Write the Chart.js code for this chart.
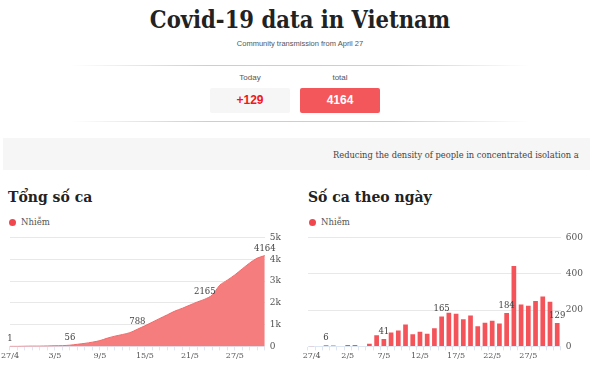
<!DOCTYPE html>
<html>
<head>
<meta charset="utf-8">
<script src="https://cdn.jsdelivr.net/npm/chart.js@4.4.0/dist/chart.umd.min.js"></script>
<style>
  body { margin: 0; width: 600px; height: 366px; background: #fff; position: relative; overflow: hidden; font-family: "Liberation Sans", Arial, sans-serif; }
  .abs { position: absolute; }
  .title { left: 0; width: 600px; top: 6px; text-align: center; font-family: "DejaVu Serif Condensed", "DejaVu Serif", serif; font-stretch: condensed; font-weight: bold; font-size: 23.5px; color: #222; }
  .sub { left: 0; width: 600px; top: 39px; text-align: center; font-size: 7.5px; color: #555; }
  .line { left: 70px; width: 460px; height: 1px; background: linear-gradient(to right, rgba(230,190,200,0), #e6c2cb 30%, #e6c2cb 70%, rgba(230,190,200,0)); }
  .lbl { font-size: 8px; color: #555; text-align: center; width: 80px; }
  .box { height: 25px; width: 80px; border-radius: 2px; text-align: center; line-height: 25px; font-weight: bold; font-size: 12px; }
  .band { left: 3px; top: 138px; width: 587px; height: 32px; background: #f6f6f6; }
  .band div { position: absolute; left: 330px; top: 12px; width: 246px; overflow: hidden; white-space: nowrap; font-family: "DejaVu Serif", serif; font-size: 8.3px; color: #444; }
  .sec { font-family: "DejaVu Serif", serif; font-weight: bold; font-size: 14px; color: #222; }
  .leg { font-family: "DejaVu Serif", serif; font-size: 8.5px; color: #555; }
  .leg i { display: inline-block; width: 7px; height: 7px; border-radius: 50%; background: #f0474f; margin-right: 5px; vertical-align: -1px; }
</style>
</head>
<body>
<div class="abs title">Covid-19 data in Vietnam</div>
<div class="abs sub">Community transmission from April 27</div>
<div class="abs line" style="top:65px"></div>
<div class="abs lbl" style="left:210px;top:73px">Today</div>
<div class="abs lbl" style="left:300px;top:73px">total</div>
<div class="abs box" style="left:210px;top:88px;background:#f6f6f6;color:#f01818">+129</div>
<div class="abs box" style="left:300px;top:88px;background:#f3575c;color:#fff">4164</div>
<div class="abs line" style="top:121px"></div>
<div class="abs band"><div>Reducing the density of people in concentrated isolation areas</div></div>

<div class="abs sec" style="left:8px;top:189px">Tổng số ca</div>
<div class="abs leg" style="left:9px;top:217px"><i></i>Nhiễm</div>
<div class="abs sec" style="left:308px;top:189px">Số ca theo ngày</div>
<div class="abs leg" style="left:309px;top:217px"><i></i>Nhiễm</div>

<div class="abs" style="left:0;top:227px;width:300px;height:135px"><canvas id="tongSoCa"></canvas></div>
<div class="abs" style="left:300px;top:227px;width:300px;height:135px"><canvas id="theoNgay"></canvas></div>

<script>
const ngay = ['27/4','28/4','29/4','30/4','1/5','2/5','3/5','4/5','5/5','6/5','7/5','8/5','9/5','10/5','11/5','12/5','13/5','14/5','15/5','16/5','17/5','18/5','19/5','20/5','21/5','22/5','23/5','24/5','25/5','26/5','27/5','28/5','29/5','30/5','31/5'];
const tongSoCa = [1,1,7,12,12,20,28,35,56,97,140,195,265,380,470,545,630,788,945,1115,1285,1450,1620,1750,1895,2040,2165,2360,2810,3040,3280,3560,3830,4050,4164];
const soCaNgay = [1,0,6,5,0,8,8,0,15,61,41,76,87,120,67,80,70,100,165,185,180,150,170,111,130,141,126,184,443,231,224,250,274,246,129];
const nhanTong = [0,8,17,26,34];
const nhanNgay = [2,10,18,27,34];
const tickTong = [0,1000,2000,3000,4000,5000];
const tickNgay = [0,200,400,600];

const serif = '"DejaVu Serif", serif';

// ghi so lieu tren mot vai diem
const nhanPlugin = {
  id: 'nhan',
  afterDatasetsDraw(chart, args, opts) {
    const ctx = chart.ctx;
    const meta = chart.getDatasetMeta(0);
    const data = chart.data.datasets[0].data;
    ctx.save();
    ctx.font = '8.5px ' + serif;
    ctx.fillStyle = '#444';
    ctx.textAlign = 'center';
    ctx.textBaseline = 'bottom';
    opts.idx.forEach(i => {
      const el = meta.data[i];
      ctx.fillText(data[i], el.x, el.y - 3);
    });
    ctx.restore();
  }
};

function truc(max, ticks, fmt, every) {
  return {
    x: {
      grid: { drawOnChartArea: false, drawTicks: true, tickLength: 4, color: '#dfe6f3' },
      border: { color: '#dfe6f3' },
      ticks: {
        autoSkip: false, maxRotation: 0, padding: 1,
        font: { family: serif, size: 8 }, color: '#555',
        callback: (v, i) => i % every === 0 ? ngay[i] : ''
      }
    },
    y: {
      position: 'right', min: 0, max: max,
      afterBuildTicks: ax => { ax.ticks = ticks.map(v => ({ value: v })); },
      grid: { color: '#e8e8e8', drawTicks: false },
      border: { display: false },
      ticks: { padding: 5, font: { family: serif, size: 9 }, color: '#555', callback: fmt }
    }
  };
}

new Chart(document.getElementById('tongSoCa'), {
  type: 'line',
  data: {
    labels: ngay,
    datasets: [{
      label: 'Nhiễm',
      data: tongSoCa,
      fill: 'origin',
      backgroundColor: '#f57d7d',
      borderColor: '#f26b6b',
      borderWidth: 1,
      pointRadius: 0,
      tension: 0.3
    }]
  },
  options: {
    maintainAspectRatio: false,
    animation: false,
    layout: { padding: { left: 8, right: 14, top: 5 } },
    plugins: { legend: { display: false }, tooltip: { enabled: false }, nhan: { idx: nhanTong } },
    scales: truc(5000, tickTong, v => v === 0 ? '0' : (v / 1000) + 'k', 6)
  },
  plugins: [nhanPlugin]
});

new Chart(document.getElementById('theoNgay'), {
  type: 'bar',
  data: {
    labels: ngay,
    datasets: [{
      label: 'Nhiễm',
      data: soCaNgay,
      backgroundColor: '#f4535a',
      barPercentage: 0.65,
      categoryPercentage: 1
    }]
  },
  options: {
    maintainAspectRatio: false,
    animation: false,
    layout: { padding: { left: 8, right: 12, top: 5 } },
    plugins: { legend: { display: false }, tooltip: { enabled: false }, nhan: { idx: nhanNgay } },
    scales: truc(600, tickNgay, v => v, 5)
  },
  plugins: [nhanPlugin]
});
</script>
</body>
</html>
